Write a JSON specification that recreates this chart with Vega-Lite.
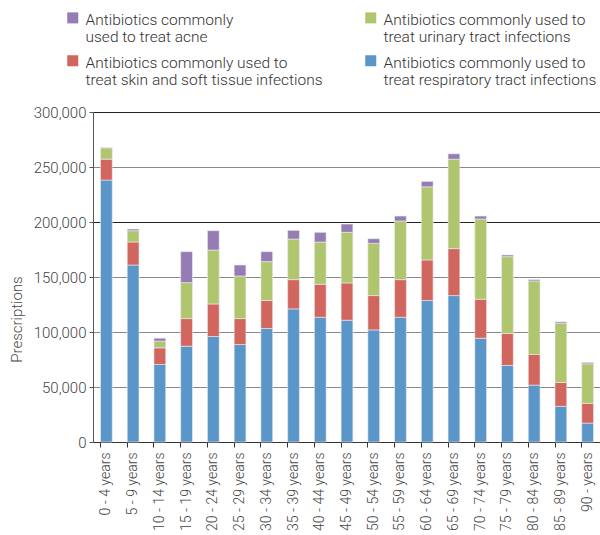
{
  "$schema": "https://vega.github.io/schema/vega-lite/v6.json",
  "autosize": {"type": "none"},
  "width": 508,
  "height": 330,
  "padding": {"left": 93, "top": 112, "right": 0, "bottom": 93},
  "background": "white",
  "config": {
    "view": {"stroke": null},
    "font": "Roboto",
    "axis": {"labelFont": "Roboto", "titleFont": "Roboto", "labelColor": "#444", "titleColor": "#444", "labelFontWeight": 300, "titleFontWeight": 300},
    "legend": {"labelFont": "Roboto", "labelFontWeight": 300}
  },
  "data": {
    "values": [
      {"age": "0 - 4 years", "type": "Antibiotics commonly used to treat respiratory tract infections", "rank": 1, "prescriptions": 238100},
      {"age": "0 - 4 years", "type": "Antibiotics commonly used to treat skin and soft tissue infections", "rank": 2, "prescriptions": 19000},
      {"age": "0 - 4 years", "type": "Antibiotics commonly used to treat urinary tract infections", "rank": 3, "prescriptions": 10300},
      {"age": "0 - 4 years", "type": "Antibiotics commonly used to treat acne", "rank": 4, "prescriptions": 300},
      {"age": "5 - 9 years", "type": "Antibiotics commonly used to treat respiratory tract infections", "rank": 1, "prescriptions": 160900},
      {"age": "5 - 9 years", "type": "Antibiotics commonly used to treat skin and soft tissue infections", "rank": 2, "prescriptions": 20900},
      {"age": "5 - 9 years", "type": "Antibiotics commonly used to treat urinary tract infections", "rank": 3, "prescriptions": 10300},
      {"age": "5 - 9 years", "type": "Antibiotics commonly used to treat acne", "rank": 4, "prescriptions": 1500},
      {"age": "10 - 14 years", "type": "Antibiotics commonly used to treat respiratory tract infections", "rank": 1, "prescriptions": 70500},
      {"age": "10 - 14 years", "type": "Antibiotics commonly used to treat skin and soft tissue infections", "rank": 2, "prescriptions": 15100},
      {"age": "10 - 14 years", "type": "Antibiotics commonly used to treat urinary tract infections", "rank": 3, "prescriptions": 6100},
      {"age": "10 - 14 years", "type": "Antibiotics commonly used to treat acne", "rank": 4, "prescriptions": 2700},
      {"age": "15 - 19 years", "type": "Antibiotics commonly used to treat respiratory tract infections", "rank": 1, "prescriptions": 87100},
      {"age": "15 - 19 years", "type": "Antibiotics commonly used to treat skin and soft tissue infections", "rank": 2, "prescriptions": 25100},
      {"age": "15 - 19 years", "type": "Antibiotics commonly used to treat urinary tract infections", "rank": 3, "prescriptions": 32700},
      {"age": "15 - 19 years", "type": "Antibiotics commonly used to treat acne", "rank": 4, "prescriptions": 28100},
      {"age": "20 - 24 years", "type": "Antibiotics commonly used to treat respiratory tract infections", "rank": 1, "prescriptions": 95900},
      {"age": "20 - 24 years", "type": "Antibiotics commonly used to treat skin and soft tissue infections", "rank": 2, "prescriptions": 29600},
      {"age": "20 - 24 years", "type": "Antibiotics commonly used to treat urinary tract infections", "rank": 3, "prescriptions": 49000},
      {"age": "20 - 24 years", "type": "Antibiotics commonly used to treat acne", "rank": 4, "prescriptions": 17600},
      {"age": "25 - 29 years", "type": "Antibiotics commonly used to treat respiratory tract infections", "rank": 1, "prescriptions": 88600},
      {"age": "25 - 29 years", "type": "Antibiotics commonly used to treat skin and soft tissue infections", "rank": 2, "prescriptions": 23600},
      {"age": "25 - 29 years", "type": "Antibiotics commonly used to treat urinary tract infections", "rank": 3, "prescriptions": 38700},
      {"age": "25 - 29 years", "type": "Antibiotics commonly used to treat acne", "rank": 4, "prescriptions": 10000},
      {"age": "30 - 34 years", "type": "Antibiotics commonly used to treat respiratory tract infections", "rank": 1, "prescriptions": 103200},
      {"age": "30 - 34 years", "type": "Antibiotics commonly used to treat skin and soft tissue infections", "rank": 2, "prescriptions": 25400},
      {"age": "30 - 34 years", "type": "Antibiotics commonly used to treat urinary tract infections", "rank": 3, "prescriptions": 35400},
      {"age": "30 - 34 years", "type": "Antibiotics commonly used to treat acne", "rank": 4, "prescriptions": 9000},
      {"age": "35 - 39 years", "type": "Antibiotics commonly used to treat respiratory tract infections", "rank": 1, "prescriptions": 121000},
      {"age": "35 - 39 years", "type": "Antibiotics commonly used to treat skin and soft tissue infections", "rank": 2, "prescriptions": 26600},
      {"age": "35 - 39 years", "type": "Antibiotics commonly used to treat urinary tract infections", "rank": 3, "prescriptions": 36900},
      {"age": "35 - 39 years", "type": "Antibiotics commonly used to treat acne", "rank": 4, "prescriptions": 7900},
      {"age": "40 - 44 years", "type": "Antibiotics commonly used to treat respiratory tract infections", "rank": 1, "prescriptions": 113400},
      {"age": "40 - 44 years", "type": "Antibiotics commonly used to treat skin and soft tissue infections", "rank": 2, "prescriptions": 30000},
      {"age": "40 - 44 years", "type": "Antibiotics commonly used to treat urinary tract infections", "rank": 3, "prescriptions": 38400},
      {"age": "40 - 44 years", "type": "Antibiotics commonly used to treat acne", "rank": 4, "prescriptions": 8800},
      {"age": "45 - 49 years", "type": "Antibiotics commonly used to treat respiratory tract infections", "rank": 1, "prescriptions": 110700},
      {"age": "45 - 49 years", "type": "Antibiotics commonly used to treat skin and soft tissue infections", "rank": 2, "prescriptions": 33900},
      {"age": "45 - 49 years", "type": "Antibiotics commonly used to treat urinary tract infections", "rank": 3, "prescriptions": 46000},
      {"age": "45 - 49 years", "type": "Antibiotics commonly used to treat acne", "rank": 4, "prescriptions": 7500},
      {"age": "50 - 54 years", "type": "Antibiotics commonly used to treat respiratory tract infections", "rank": 1, "prescriptions": 101900},
      {"age": "50 - 54 years", "type": "Antibiotics commonly used to treat skin and soft tissue infections", "rank": 2, "prescriptions": 31200},
      {"age": "50 - 54 years", "type": "Antibiotics commonly used to treat urinary tract infections", "rank": 3, "prescriptions": 47500},
      {"age": "50 - 54 years", "type": "Antibiotics commonly used to treat acne", "rank": 4, "prescriptions": 4200},
      {"age": "55 - 59 years", "type": "Antibiotics commonly used to treat respiratory tract infections", "rank": 1, "prescriptions": 113400},
      {"age": "55 - 59 years", "type": "Antibiotics commonly used to treat skin and soft tissue infections", "rank": 2, "prescriptions": 34200},
      {"age": "55 - 59 years", "type": "Antibiotics commonly used to treat urinary tract infections", "rank": 3, "prescriptions": 53300},
      {"age": "55 - 59 years", "type": "Antibiotics commonly used to treat acne", "rank": 4, "prescriptions": 4500},
      {"age": "60 - 64 years", "type": "Antibiotics commonly used to treat respiratory tract infections", "rank": 1, "prescriptions": 128600},
      {"age": "60 - 64 years", "type": "Antibiotics commonly used to treat skin and soft tissue infections", "rank": 2, "prescriptions": 36900},
      {"age": "60 - 64 years", "type": "Antibiotics commonly used to treat urinary tract infections", "rank": 3, "prescriptions": 66500},
      {"age": "60 - 64 years", "type": "Antibiotics commonly used to treat acne", "rank": 4, "prescriptions": 4900},
      {"age": "65 - 69 years", "type": "Antibiotics commonly used to treat respiratory tract infections", "rank": 1, "prescriptions": 133100},
      {"age": "65 - 69 years", "type": "Antibiotics commonly used to treat skin and soft tissue infections", "rank": 2, "prescriptions": 42700},
      {"age": "65 - 69 years", "type": "Antibiotics commonly used to treat urinary tract infections", "rank": 3, "prescriptions": 81300},
      {"age": "65 - 69 years", "type": "Antibiotics commonly used to treat acne", "rank": 4, "prescriptions": 4900},
      {"age": "70 - 74 years", "type": "Antibiotics commonly used to treat respiratory tract infections", "rank": 1, "prescriptions": 94400},
      {"age": "70 - 74 years", "type": "Antibiotics commonly used to treat skin and soft tissue infections", "rank": 2, "prescriptions": 35400},
      {"age": "70 - 74 years", "type": "Antibiotics commonly used to treat urinary tract infections", "rank": 3, "prescriptions": 72900},
      {"age": "70 - 74 years", "type": "Antibiotics commonly used to treat acne", "rank": 4, "prescriptions": 2700},
      {"age": "75 - 79 years", "type": "Antibiotics commonly used to treat respiratory tract infections", "rank": 1, "prescriptions": 69600},
      {"age": "75 - 79 years", "type": "Antibiotics commonly used to treat skin and soft tissue infections", "rank": 2, "prescriptions": 29000},
      {"age": "75 - 79 years", "type": "Antibiotics commonly used to treat urinary tract infections", "rank": 3, "prescriptions": 69900},
      {"age": "75 - 79 years", "type": "Antibiotics commonly used to treat acne", "rank": 4, "prescriptions": 1500},
      {"age": "80 - 84 years", "type": "Antibiotics commonly used to treat respiratory tract infections", "rank": 1, "prescriptions": 51700},
      {"age": "80 - 84 years", "type": "Antibiotics commonly used to treat skin and soft tissue infections", "rank": 2, "prescriptions": 27900},
      {"age": "80 - 84 years", "type": "Antibiotics commonly used to treat urinary tract infections", "rank": 3, "prescriptions": 66800},
      {"age": "80 - 84 years", "type": "Antibiotics commonly used to treat acne", "rank": 4, "prescriptions": 1200},
      {"age": "85 - 89 years", "type": "Antibiotics commonly used to treat respiratory tract infections", "rank": 1, "prescriptions": 32400},
      {"age": "85 - 89 years", "type": "Antibiotics commonly used to treat skin and soft tissue infections", "rank": 2, "prescriptions": 21700},
      {"age": "85 - 89 years", "type": "Antibiotics commonly used to treat urinary tract infections", "rank": 3, "prescriptions": 53900},
      {"age": "85 - 89 years", "type": "Antibiotics commonly used to treat acne", "rank": 4, "prescriptions": 1200},
      {"age": "90 - years", "type": "Antibiotics commonly used to treat respiratory tract infections", "rank": 1, "prescriptions": 17200},
      {"age": "90 - years", "type": "Antibiotics commonly used to treat skin and soft tissue infections", "rank": 2, "prescriptions": 17900},
      {"age": "90 - years", "type": "Antibiotics commonly used to treat urinary tract infections", "rank": 3, "prescriptions": 36000},
      {"age": "90 - years", "type": "Antibiotics commonly used to treat acne", "rank": 4, "prescriptions": 1200}
    ]
  },
  "mark": {"type": "bar", "stroke": "#eeeaf4", "strokeWidth": 0.6},
  "encoding": {
    "x": {
      "field": "age",
      "type": "nominal",
      "sort": null,
      "scale": {"paddingInner": 0.56, "paddingOuter": 0.28},
      "axis": {
        "title": null,
        "labelAngle": 270,
        "labelFontSize": 14,
        "labelPadding": 5,
        "tickSize": 5,
        "bandPosition": 0,
        "domainColor": "#333",
        "tickColor": "#333",
        "labelColor": "#444"
      }
    },
    "y": {
      "field": "prescriptions",
      "type": "quantitative",
      "stack": "zero",
      "scale": {"domain": [0, 300000], "nice": false},
      "axis": {
        "title": "Prescriptions",
        "titleFontSize": 15,
        "titleX": -69,
        "titleY": 207,
        "titleAlign": "center",
        "values": [0, 50000, 100000, 150000, 200000, 250000, 300000],
        "format": ",d",
        "labelFontSize": 15,
        "labelPadding": 3,
        "tickSize": 4,
        "tickColor": "#555",
        "domainColor": "#555",
        "grid": true,
        "gridColor": {"condition": {"test": "datum.value == 200000 || datum.value == 300000", "value": "#222"}, "value": "#888"},
        "gridOpacity": 1,
        "labelColor": "#444"
      }
    },
    "color": {
      "field": "type",
      "type": "nominal",
      "scale": {
        "domain": [
          "Antibiotics commonly used to treat acne",
          "Antibiotics commonly used to treat skin and soft tissue infections",
          "Antibiotics commonly used to treat urinary tract infections",
          "Antibiotics commonly used to treat respiratory tract infections"
        ],
        "range": ["#957db3", "#d1665e", "#b0c66e", "#5b96c9"]
      },
      "legend": {
        "title": null,
        "orient": "none",
        "legendX": -28,
        "legendY": -107,
        "columns": 2,
        "columnPadding": 40,
        "rowPadding": 2,
        "symbolType": "M-1,-0.09L1,-0.09L1,1.91L-1,1.91Z",
        "symbolSize": 121,
        "symbolStrokeWidth": 0,
        "labelFontSize": 15.5,
        "labelLineHeight": 18.5,
        "labelColor": "#333",
        "labelLimit": 400,
        "labelOffset": 5,
        "labelBaseline": "top",
        "labelExpr": "indexof(datum.label, 'acne') >= 0 ? [slice(datum.label, 0, 20), slice(datum.label, 21)] : [slice(datum.label, 0, 28), slice(datum.label, 29)]"
      }
    },
    "order": {"field": "rank", "type": "quantitative"}
  }
}
